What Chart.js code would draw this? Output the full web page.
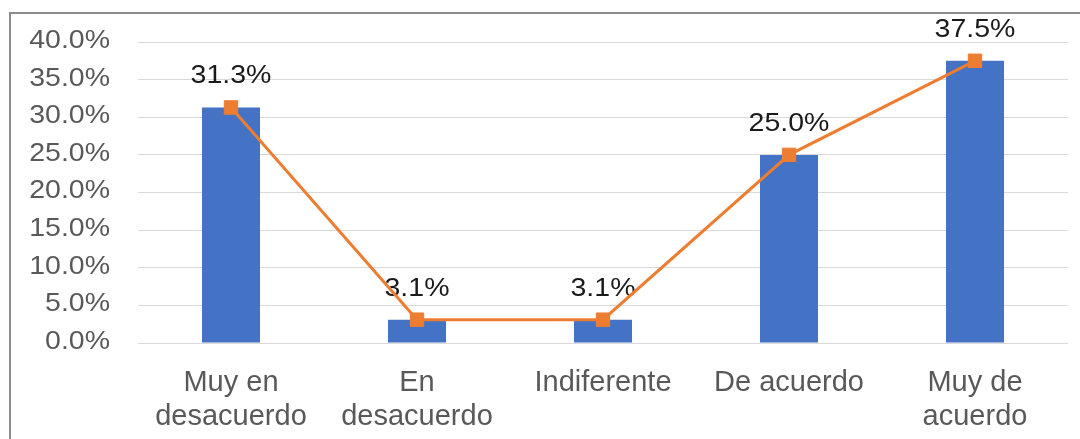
<!DOCTYPE html>
<html>
<head>
<meta charset="utf-8">
<script src="https://cdn.jsdelivr.net/npm/chart.js@4/dist/chart.umd.min.js"></script>
<style>
  html, body { margin: 0; padding: 0; background: #fff; }
  #wrap { position: relative; width: 1080px; height: 439px; overflow: hidden; }
  #frame { position: absolute; left: 9px; top: 12px; width: 1080px; height: 440px;
           border-left: 2px solid #8c8c8c; border-top: 2px solid #8c8c8c; box-sizing: border-box; }
  canvas { position: absolute; left: 0; top: 0; }
</style>
</head>
<body>
<div id="wrap">
  <div id="frame"></div>
  <canvas id="c" width="1080" height="439"></canvas>
</div>
<script>
const categories = [["Muy en", "desacuerdo"], ["En", "desacuerdo"], "Indiferente", "De acuerdo", ["Muy de", "acuerdo"]];
const barValues = [31.3, 3.1, 3.1, 25.0, 37.5];
const lineValues = [31.3, 3.1, 3.1, 25.0, 37.5];
const yTickValues = [0, 5, 10, 15, 20, 25, 30, 35, 40];

const FONT = '"Liberation Sans", Arial, sans-serif';
const STRETCH = 1.14;

function stretchedText(ctx, text, x, y, align) {
  ctx.save();
  ctx.translate(x, y);
  ctx.scale(STRETCH, 1);
  ctx.textAlign = align;
  ctx.fillText(text, 0, 0);
  ctx.restore();
}

const labelPlugin = {
  id: 'customLabels',
  beforeDatasetsDraw(chart) {
    const ctx = chart.ctx;
    const meta = chart.getDatasetMeta(0);
    ctx.save();
    ctx.font = '25px ' + FONT;
    ctx.fillStyle = '#1a1a1a';
    ctx.textBaseline = 'middle';
    meta.data.forEach((pt, i) => {
      stretchedText(ctx, lineValues[i].toFixed(1) + '%', pt.x, pt.y - 31, 'center');
    });
    const y = chart.scales.y;
    ctx.fillStyle = '#595959';
    yTickValues.forEach(v => {
      stretchedText(ctx, v.toFixed(1) + '%', chart.chartArea.left - 28, y.getPixelForValue(v) - 1, 'right');
    });
    ctx.restore();
  }
};

new Chart(document.getElementById('c'), {
  data: {
    labels: categories,
    datasets: [
      {
        type: 'line',
        data: lineValues,
        order: 0,
        borderColor: '#ED7D31',
        backgroundColor: '#ED7D31',
        borderWidth: 3,
        pointStyle: 'rect',
        pointRadius: 9.5,
        pointBorderWidth: 1,
        pointBorderColor: '#ED7D31',
        pointBackgroundColor: '#ED7D31',
        tension: 0
      },
      {
        type: 'bar',
        data: barValues,
        order: 1,
        backgroundColor: '#4472C4',
        barPercentage: 0.312,
        categoryPercentage: 1.0
      }
    ]
  },
  plugins: [labelPlugin],
  options: {
    responsive: false,
    devicePixelRatio: 1,
    animation: false,
    layout: { padding: { left: 10, right: 12, top: 42, bottom: 0 } },
    plugins: { legend: { display: false }, tooltip: { enabled: false } },
    scales: {
      x: {
        grid: { display: false },
        border: { display: false },
        ticks: {
          color: '#595959',
          padding: 15,
          maxRotation: 0,
          autoSkip: false,
          font: { family: FONT, size: 29, lineHeight: 1.17 }
        },
        afterFit(scale) { scale.height = 96; }
      },
      y: {
        min: 0,
        max: 40,
        grid: { color: '#d9d9d9', lineWidth: 1, drawTicks: false },
        border: { display: false },
        ticks: { stepSize: 5, display: false },
        afterFit(scale) { scale.width = 128; }
      }
    }
  }
});
</script>
</body>
</html>
